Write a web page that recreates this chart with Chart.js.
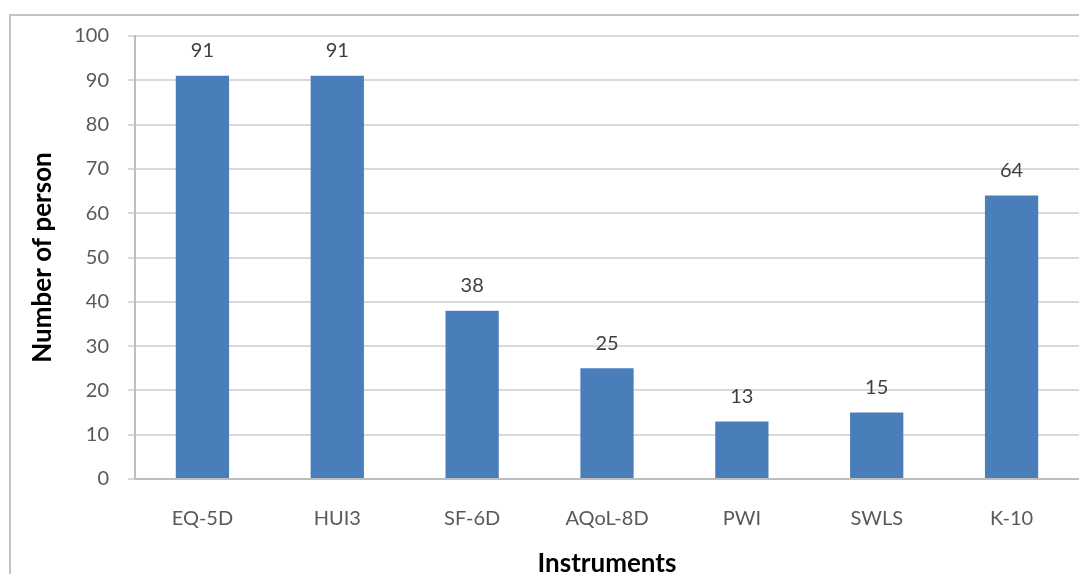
<!DOCTYPE html>
<html>
<head>
<meta charset="utf-8">
<script src="https://cdn.jsdelivr.net/npm/chart.js@4/dist/chart.umd.min.js"></script>
<style>
  html, body { margin: 0; padding: 0; background: #fff; }
  #wrap { position: relative; width: 1079px; height: 574px; }
  #frame { position: absolute; left: 9px; top: 14px; right: 0; bottom: 0;
           border-left: 2px solid #c4c4c4; border-top: 2px solid #c4c4c4; }
  canvas { position: absolute; left: 0; top: 0; }
</style>
</head>
<body>
<div id="wrap">
  <div id="frame"></div>
  <canvas id="chart" width="1079" height="574"></canvas>
</div>
<script>
// Instruments used and how many persons completed each
const instruments = ['EQ-5D', 'HUI3', 'SF-6D', 'AQoL-8D', 'PWI', 'SWLS', 'K-10'];
const persons = [91, 91, 38, 25, 13, 15, 64];
const yTicks = [0, 10, 20, 30, 40, 50, 60, 70, 80, 90, 100];

const fontFamily = 'Lato, "Open Sans", sans-serif';

// Writes each bar's value just above it
const valueLabels = {
  id: 'valueLabels',
  afterDatasetsDraw(chart) {
    const { ctx } = chart;
    const meta = chart.getDatasetMeta(0);
    ctx.save();
    ctx.font = '20px ' + fontFamily;
    ctx.fillStyle = '#404040';
    ctx.textAlign = 'center';
    ctx.textBaseline = 'middle';
    meta.data.forEach((bar, i) => {
      ctx.fillText(String(chart.data.datasets[0].data[i]), bar.x, bar.y - 25);
    });
    ctx.restore();
  }
};

new Chart(document.getElementById('chart'), {
  type: 'bar',
  data: {
    labels: instruments,
    datasets: [{
      data: persons,
      backgroundColor: '#4a7ebb',
      borderWidth: 0,
      categoryPercentage: 1,
      barPercentage: 0.395
    }]
  },
  options: {
    responsive: false,
    animation: false,
    layout: { padding: { top: 36, right: 0, bottom: 0, left: 0 } },
    plugins: { legend: { display: false }, tooltip: { enabled: false } },
    scales: {
      x: {
        afterFit(s) { s.height = 95; },
        grid: { display: false, drawTicks: false },
        border: { display: true, color: '#bdbdbd', width: 2 },
        ticks: { color: '#595959', font: { family: fontFamily, size: 20 }, padding: 28 },
        title: {
          display: true, text: 'Instruments', color: '#000',
          font: { family: fontFamily, size: 26, weight: 'bold' },
          padding: { top: 0, bottom: -5 }
        }
      },
      y: {
        min: 0, max: 100,
        afterFit(s) { s.width = 135; },
        afterBuildTicks(s) { s.ticks = yTicks.map(v => ({ value: v })); },
        grid: { color: '#d9d9d9', lineWidth: 2, tickLength: 7, drawTicks: true },
        border: { display: true, color: '#bdbdbd', width: 2 },
        ticks: { color: '#595959', font: { family: fontFamily, size: 20 }, padding: 19 },
        title: {
          display: true, text: 'Number of person', color: '#000',
          font: { family: fontFamily, size: 26, weight: 'bold' },
          padding: { top: 27, bottom: 0 }
        }
      }
    }
  },
  plugins: [valueLabels]
});
</script>
</body>
</html>
